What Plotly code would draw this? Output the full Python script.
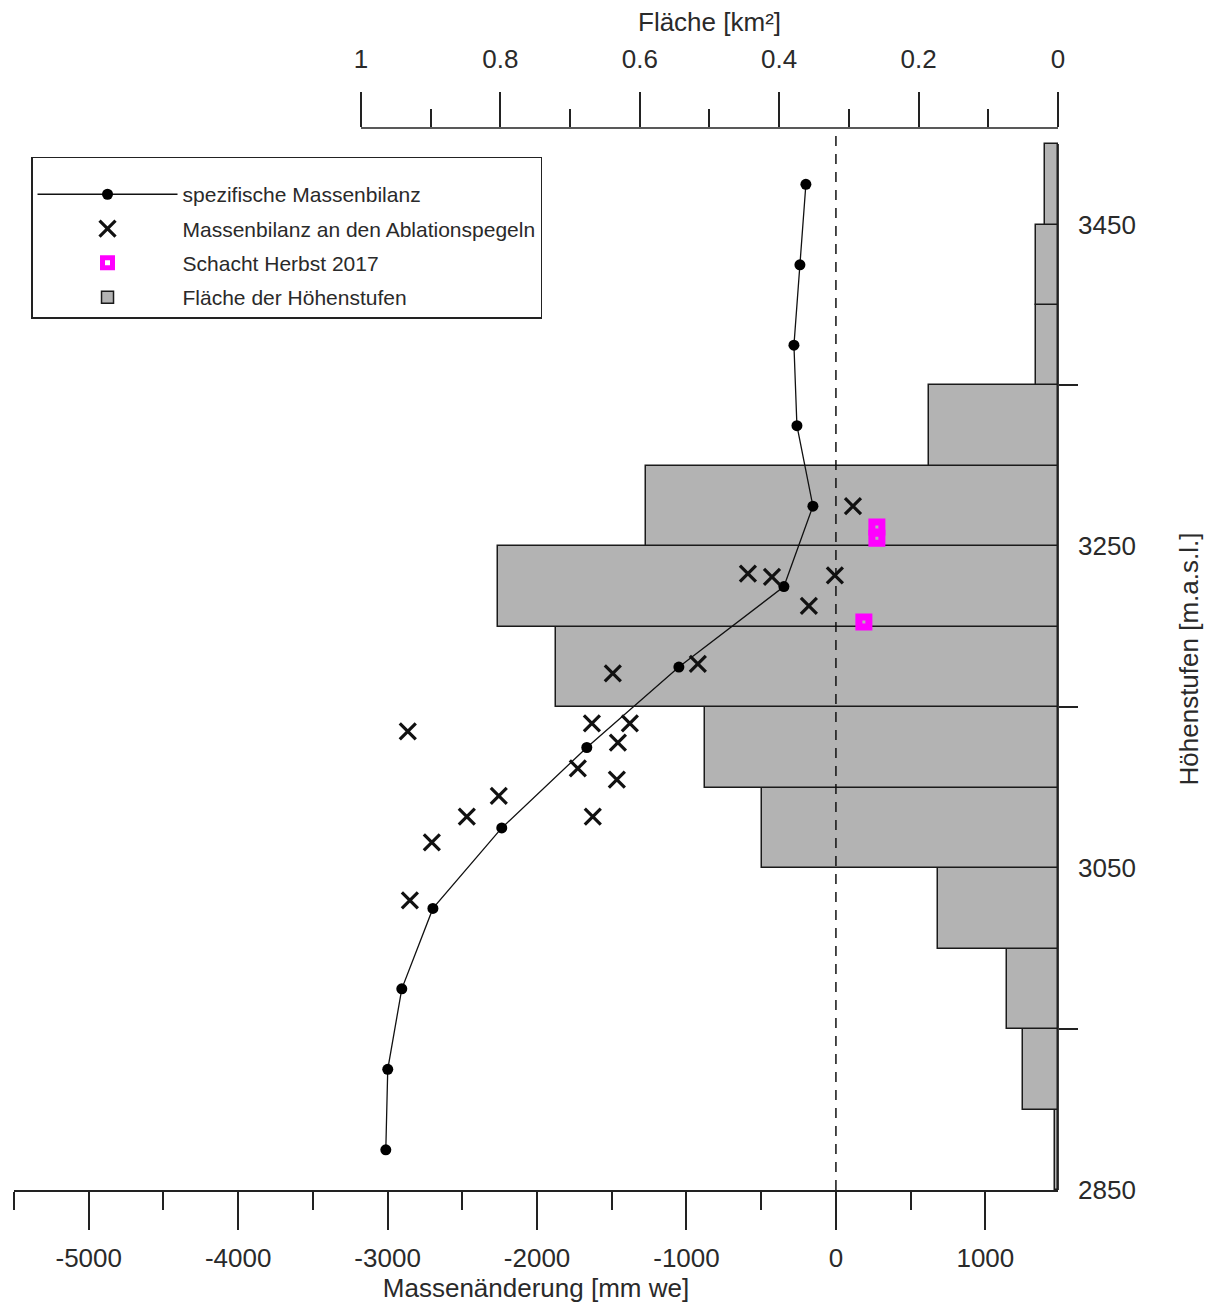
import plotly.graph_objects as go

# Elevation bands (centres, m a.s.l.) and their areas (km²)
bin_centers = [2875, 2925, 2975, 3025, 3075, 3125, 3175, 3225, 3275, 3325, 3375, 3425, 3475]
area_km2 = [0.005, 0.050, 0.073, 0.172, 0.424, 0.507, 0.720, 0.803, 0.591, 0.185, 0.031, 0.031, 0.018]

# Specific mass balance per band (mm we)
spec_balance = [-3012, -2999, -2905, -2697, -2236, -1667, -1051, -348, -154, -261, -281, -241, -201]

# Mass balance at the ablation stakes
stake_balance = [114, -589, -428, -7, -181, -924, -1493, -2865, -1633, -1379, -1459,
                 -1727, -1466, -2256, -2470, -1627, -2704, -2851]
stake_elev = [3275, 3233, 3231, 3232, 3213, 3177, 3171, 3135, 3140, 3140, 3128,
              3112, 3105, 3095, 3082, 3082, 3066, 3030]

# Snow pit autumn 2017
pit_balance = [274, 274, 187]
pit_elev = [3262, 3255, 3203]

# Tick values
area_ticks = [0, 0.2, 0.4, 0.6, 0.8, 1]
area_ticktext = ["0", "0.2", "0.4", "0.6", "0.8", "1"]
area_minor = [0.1, 0.3, 0.5, 0.7, 0.9]
mass_ticks = [-5000, -4000, -3000, -2000, -1000, 0, 1000]
mass_ticktext = ["-5000", "-4000", "-3000", "-2000", "-1000", "0", "1000"]
mass_minor = [-5500, -4500, -3500, -2500, -1500, -500, 500]
elev_ticks = [2850, 3050, 3250, 3450]
elev_minor = [2950, 3150, 3350]

FONT = "Liberation Sans, Arial, sans-serif"
TXT = "#2a2a2a"

fig = go.Figure()

fig.add_trace(go.Bar(
    y=bin_centers, x=area_km2, orientation="h", width=50, base=0,
    xaxis="x", yaxis="y",
    marker=dict(color="#b3b3b3", line=dict(color="#1a1a1a", width=1.5)),
    name="Fläche der Höhenstufen", legendrank=4, legendgroup="d",
))

fig.add_trace(go.Scatter(
    x=spec_balance, y=bin_centers, xaxis="x2", yaxis="y",
    mode="lines+markers",
    line=dict(color="#111", width=1.3),
    marker=dict(symbol="circle", size=11, color="#000"),
    name="spezifische Massenbilanz", legendrank=1, legendgroup="a",
))

fig.add_trace(go.Scatter(
    x=stake_balance, y=stake_elev, xaxis="x2", yaxis="y",
    mode="markers",
    marker=dict(symbol="x-thin", size=16, color="#111", line=dict(color="#111", width=3.2)),
    name="Massenbilanz an den Ablationspegeln", legendrank=2, legendgroup="b",
))

fig.add_trace(go.Scatter(
    x=pit_balance, y=pit_elev, xaxis="x2", yaxis="y",
    mode="markers",
    marker=dict(symbol="square-open", size=10, color="#ff00ff", line=dict(color="#ff00ff", width=7)),
    name="Schacht Herbst 2017", legendrank=3, legendgroup="c",
))

fig.update_layout(
    width=1208, height=1300,
    margin=dict(l=6, r=158, t=120, b=118),
    paper_bgcolor="white", plot_bgcolor="white",
    font=dict(family=FONT, size=26, color=TXT),
    bargap=0,
    xaxis=dict(
        domain=[0, 1], range=[1.4978, 0], side="top", anchor="y",
        tickmode="array", tickvals=area_ticks, ticktext=area_ticktext,
        ticks="outside", ticklen=35, tickwidth=1.5, tickcolor="#222",
        minor=dict(tickmode="array", tickvals=area_minor, ticks="outside",
                   ticklen=18, tickwidth=1.5, tickcolor="#222"),
        ticklabelstandoff=14,
        showline=False, showgrid=False, zeroline=False,
        tickfont=dict(size=26),
        automargin=False,
    ),
    xaxis2=dict(
        overlaying="x", side="bottom", anchor="y", range=[-5500, 1486],
        tickmode="array", tickvals=mass_ticks, ticktext=mass_ticktext,
        ticks="outside", ticklen=38, tickwidth=1.5, tickcolor="#222",
        minor=dict(tickmode="array", tickvals=mass_minor, ticks="outside",
                   ticklen=18, tickwidth=1.5, tickcolor="#222"),
        ticklabelstandoff=6,
        showline=True, linecolor="#222", linewidth=2,
        showgrid=False, zeroline=False,
        tickfont=dict(size=26),
        title=dict(text="Massenänderung [mm we]", font=dict(size=26), standoff=4),
        automargin=False,
    ),
    yaxis=dict(
        range=[2850, 3510], side="right", anchor="x",
        tickmode="array", tickvals=elev_ticks,
        ticks="", ticklabelstandoff=19,
        minor=dict(tickmode="array", tickvals=elev_minor, ticks="outside",
                   ticklen=19, tickwidth=1.5, tickcolor="#222"),
        showline=False, showgrid=False, zeroline=False,
        tickfont=dict(size=26),
        title=dict(text="Höhenstufen [m.a.s.l.]", font=dict(size=26), standoff=44),
        automargin=False,
    ),
    legend=dict(
        x=0.0163, y=0.9727, xanchor="left", yanchor="top",
        bgcolor="white", bordercolor="#222", borderwidth=1.5,
        font=dict(family=FONT, size=21, color=TXT),
        itemwidth=140, tracegroupgap=4, traceorder="grouped",
        title=dict(text=" ", font=dict(size=12)),
    ),
    showlegend=True,
    annotations=[
        dict(text="Fläche [km²]", xref="x", yref="paper", x=0.5, y=1,
             xanchor="center", yanchor="middle", yshift=106, showarrow=False,
             font=dict(family=FONT, size=26, color=TXT)),
    ],
    shapes=[
        # zero reference line
        dict(type="line", xref="x2", yref="paper", x0=0, x1=0, y0=0, y1=1,
             line=dict(color="#111", width=1.5, dash="10px,8px"), layer="above"),
        # top area-axis line (0..1 km²)
        dict(type="line", xref="x", yref="paper", x0=1, x1=0, y0=1, y1=1,
             line=dict(color="#222", width=1.5)),
        # right elevation-axis line
        dict(type="line", xref="paper", yref="y", x0=1, x1=1, y0=2850, y1=3500,
             line=dict(color="#222", width=1.8)),
    ],
)

fig.write_html("out.html")
